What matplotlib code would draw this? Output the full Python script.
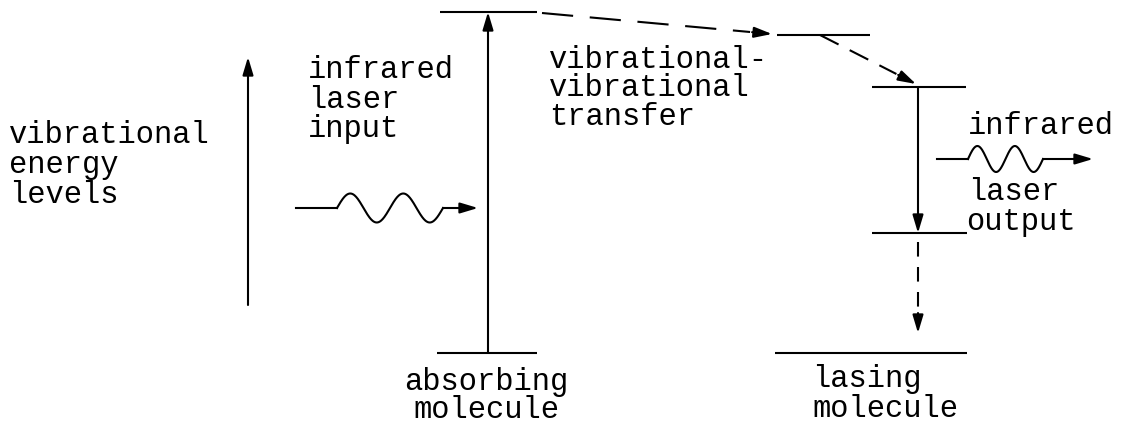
import numpy as np
import matplotlib
matplotlib.use("Agg")
import matplotlib.pyplot as plt

# ---- diagram content (pixel coordinates of the 1125x426 canvas) ----
# energy levels: (y, x_start, x_end)
absorbing_levels = [(12, 440, 537), (353, 437, 537)]
transfer_level = [(35, 777, 870)]
lasing_levels = [(87, 872, 966), (233, 872, 967), (353, 775, 967)]

# solid arrows: (x0, y0, x1, y1) tail -> tip
solid_arrows = [(248, 305, 248, 57),     # energy axis
                (488, 353, 488, 12),     # absorption
                (918, 87, 918, 233)]     # laser transition
# dashed arrows: (x0, y0, x1, y1)
dashed_arrows = [(542, 13, 772, 34),
                 (820, 35, 916, 84),
                 (918, 242, 918, 333)]
dash_patterns = [(15, 8), (10, 6), (7, 5)]

# photon waves: (x_start, x_wave0, x_wave1, x_tip, y, amplitude)
waves = [(296, 337, 443, 478, 208, 14.5),
         (937, 968, 1043, 1093, 159, 13.0)]
wave_cycles = 2

# text labels: (text, x, y_baseline, ha)
labels = [("vibrational", 9, 143, "left"),
          ("energy", 9, 173, "left"),
          ("levels", 9, 203, "left"),
          ("infrared", 308, 78, "left"),
          ("laser", 308, 108, "left"),
          ("input", 308, 137, "left"),
          ("vibrational-", 549, 68, "left"),
          ("vibrational", 549, 96, "left"),
          ("transfer", 549, 125, "left"),
          ("infrared", 968, 134, "left"),
          ("laser", 968, 200, "left"),
          ("output", 966, 230, "left"),
          ("absorbing", 486, 390, "center"),
          ("molecule", 486, 418, "center"),
          ("lasing", 812, 387, "left"),
          ("molecule", 812, 417, "left")]

LW = 1.5
HEAD = "-|>,head_length=0.6,head_width=0.18"
FONT = ["Liberation Mono", "DejaVu Sans Mono"]

fig = plt.figure(figsize=(11.25, 4.26), dpi=100)
ax = fig.add_axes([0, 0, 1, 1])
ax.set_xlim(0, 1125)
ax.set_ylim(426, 0)
ax.axis("off")

for y, xa, xb in absorbing_levels + transfer_level + lasing_levels:
    ax.plot([xa, xb], [y, y], color="black", lw=LW, solid_capstyle="butt")

def arrow(x0, y0, x1, y1):
    ax.annotate("", xy=(x1, y1), xytext=(x0, y0),
                arrowprops=dict(arrowstyle=HEAD, color="black", lw=LW,
                                shrinkA=0, shrinkB=0, mutation_scale=18))

for x0, y0, x1, y1 in solid_arrows:
    arrow(x0, y0, x1, y1)

for (x0, y0, x1, y1), dp in zip(dashed_arrows, dash_patterns):
    L = np.hypot(x1 - x0, y1 - y0)
    ux, uy = (x1 - x0) / L, (y1 - y0) / L
    xs, ys = x1 - ux * 22, y1 - uy * 22
    ax.plot([x0, xs], [y0, ys], color="black", lw=LW, dashes=dp)
    arrow(x1 - ux * 20, y1 - uy * 20, x1, y1)

for xs, xw0, xw1, xt, y, amp in waves:
    xx = np.linspace(xw0, xw1, 200)
    yy = y - amp * np.sin(2 * np.pi * wave_cycles * (xx - xw0) / (xw1 - xw0))
    ax.plot([xs, xw0], [y, y], color="black", lw=LW)
    ax.plot(xx, yy, color="black", lw=LW)
    arrow(xw1, y, xt, y)

for txt, x, y, ha in labels:
    ax.text(x, y, txt, ha=ha, va="baseline", fontsize=22,
            family=FONT, color="black")

fig.savefig("out.png", dpi=100, facecolor="white")
